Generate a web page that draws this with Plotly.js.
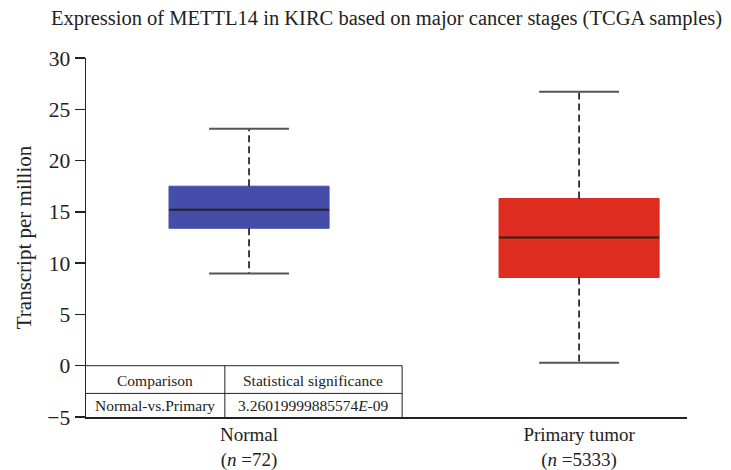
<!DOCTYPE html>
<html>
<head>
<meta charset="utf-8">
<script src="https://cdn.plot.ly/plotly-3.0.1.min.js"></script>
<style>html,body{margin:0;padding:0;background:#fff;}#chart{width:731px;height:470px;}</style>
</head>
<body>
<div id="chart"></div>
<script>
// ---- data ----
const categories = ['Normal', 'Primary tumor'];
const sampleN = [72, 5333];
const lowerWhisker = [9.0, 0.3];
const q1 = [13.4, 8.6];
const median = [15.2, 12.5];
const q3 = [17.5, 16.3];
const upperWhisker = [23.1, 26.7];
const boxColors = ['#444DAA', '#DE2C20'];
const tableHeader = ['Comparison', 'Statistical significance'];
const tableRow = ['Normal-vs.Primary', '3.26019999885574<i>E</i>-09'];
const yTicks = [-5, 0, 5, 10, 15, 20, 25, 30];

// ---- styling ----
const FONT = 'Liberation Serif, Times New Roman, serif';
const BOX_W = 0.485;
const CAP_W = 0.242;

const traces = [];
categories.forEach((c, i) => {
  traces.push({
    type: 'box', x: [i], q1: [q1[i]], median: [median[i]], q3: [q3[i]],
    lowerfence: [q1[i]], upperfence: [q3[i]], boxpoints: false,
    width: BOX_W, whiskerwidth: 0, fillcolor: boxColors[i],
    line: {color: boxColors[i], width: 1}, showlegend: false, hoverinfo: 'skip'
  });
  traces.push({
    type: 'scatter', mode: 'lines',
    x: [i, i, null, i, i],
    y: [q3[i], upperWhisker[i], null, q1[i], lowerWhisker[i]],
    line: {color: '#111', width: 1.6, dash: '7px,4px'}, showlegend: false, hoverinfo: 'skip'
  });
  traces.push({
    type: 'scatter', mode: 'lines',
    x: [i - CAP_W / 2, i + CAP_W / 2, null, i - CAP_W / 2, i + CAP_W / 2],
    y: [upperWhisker[i], upperWhisker[i], null, lowerWhisker[i], lowerWhisker[i]],
    line: {color: '#555', width: 2}, showlegend: false, hoverinfo: 'skip'
  });
  traces.push({
    type: 'scatter', mode: 'lines',
    x: [i - BOX_W / 2, i + BOX_W / 2],
    y: [median[i], median[i]],
    line: {color: '#2a2222', width: 2}, showlegend: false, hoverinfo: 'skip'
  });
});

const tickText = categories.map((c, i) => c + '<br>(<i>n</i> =' + sampleN[i] + ')');

// table (paper x, data y)
const colX = [0, 0.231, 0.526];
const rowY = [0, -2.7, -5];
const lineStyle = {color: '#222', width: 1};
const shapes = [
  {type: 'line', xref: 'paper', yref: 'y', x0: colX[0], x1: colX[2], y0: rowY[0], y1: rowY[0], line: lineStyle},
  {type: 'line', xref: 'paper', yref: 'y', x0: colX[0], x1: colX[2], y0: rowY[1], y1: rowY[1], line: lineStyle},
  {type: 'line', xref: 'paper', yref: 'y', x0: colX[1], x1: colX[1], y0: rowY[0], y1: rowY[2], line: lineStyle},
  {type: 'line', xref: 'paper', yref: 'y', x0: colX[2], x1: colX[2], y0: rowY[0], y1: rowY[2], line: lineStyle}
];
const annotations = [];
[tableHeader, tableRow].forEach((row, r) => {
  row.forEach((t, k) => {
    annotations.push({
      xref: 'paper', yref: 'y', x: (colX[k] + colX[k + 1]) / 2, y: r === 0 ? -1.42 : -3.85,
      text: t, showarrow: false, xanchor: 'center', yanchor: 'middle',
      font: {family: FONT, size: 15.5, color: '#222'}
    });
  });
});

const layout = {
  width: 731, height: 470,
  margin: {l: 86, r: 44, t: 58, b: 53},
  paper_bgcolor: '#fff', plot_bgcolor: '#fff',
  font: {family: FONT, color: '#222'},
  title: {text: 'Expression of METTL14 in KIRC based on major cancer stages (TCGA samples)',
          font: {family: FONT, size: 20.5, color: '#222'},
          xref: 'paper', x: 0.5, xanchor: 'center', yref: 'container', y: 0.963, yanchor: 'middle'},
  xaxis: {range: [-0.494, 1.327], tickvals: [0, 1], ticktext: tickText, showgrid: false, zeroline: false,
          showline: true, linecolor: '#222', linewidth: 1.5, ticks: '',
          tickfont: {family: FONT, size: 19, color: '#222'}, fixedrange: true},
  yaxis: {range: [-5, 30], tickvals: yTicks, showgrid: false, zeroline: false,
          showline: true, linecolor: '#222', linewidth: 1.5, ticks: 'outside', ticklen: 10, tickwidth: 1.5, tickcolor: '#222',
          tickfont: {family: FONT, size: 21.5, color: '#222'},
          title: {text: 'Transcript per million', font: {family: FONT, size: 21, color: '#222'}, standoff: 10},
          fixedrange: true},
  shapes: shapes, annotations: annotations, showlegend: false
};

Plotly.newPlot('chart', traces, layout, {displayModeBar: false, staticPlot: true});
</script>
</body>
</html>
